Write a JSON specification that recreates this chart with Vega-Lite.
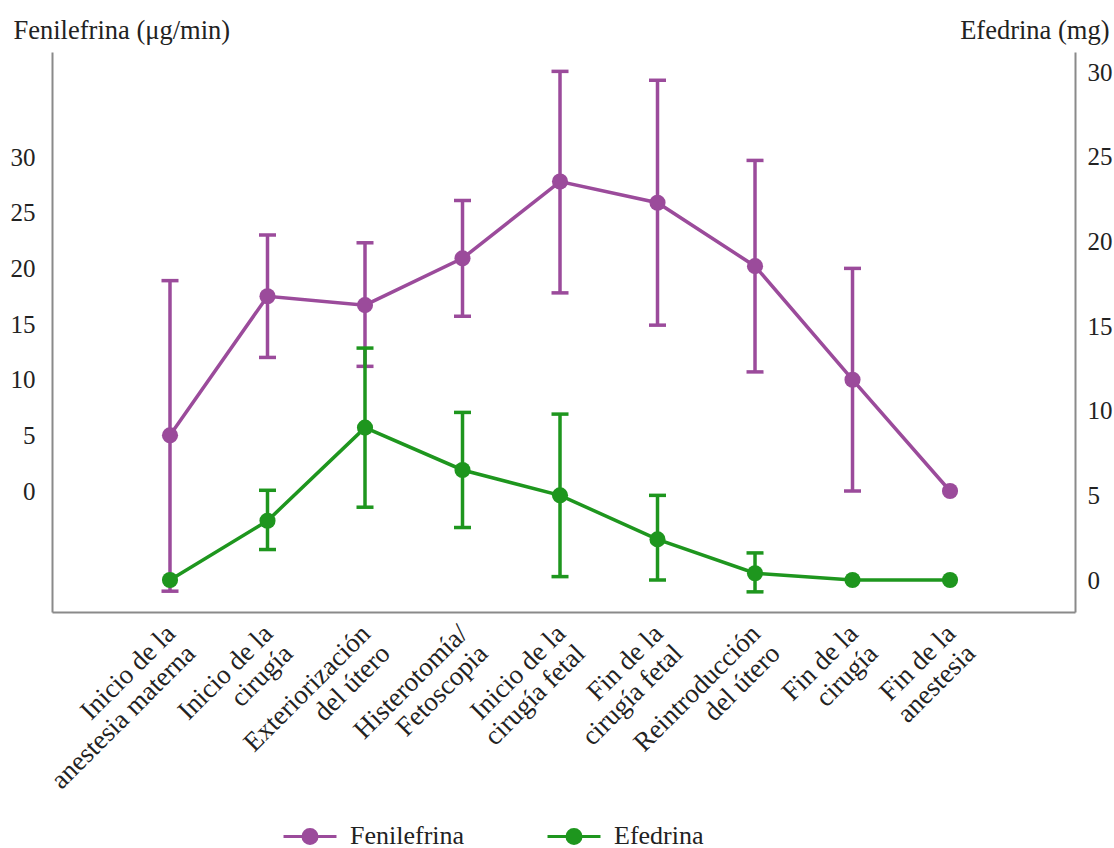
{
  "$schema": "https://vega.github.io/schema/vega-lite/v6.json",
  "autosize": {"type": "none"},
  "padding": {"left": 52, "top": 52, "right": 39, "bottom": 236},
  "width": 1023,
  "height": 560,
  "background": "white",
  "config": {
    "view": {"stroke": null},
    "font": "Liberation Serif",
    "axis": {
      "domainColor": "#8a8a8a",
      "domainWidth": 2,
      "grid": false,
      "ticks": false,
      "labelFont": "Liberation Serif",
      "labelFontSize": 25,
      "labelColor": "#222222",
      "titleFont": "Liberation Serif",
      "titleFontSize": 26.5,
      "titleFontWeight": "normal",
      "titleColor": "#222222"
    }
  },
  "data": {
    "values": [
      {"etapa": "Inicio de la|anestesia materna", "serie": "Fenilefrina", "valor": 5.0, "lo": -9.0, "hi": 18.9},
      {"etapa": "Inicio de la|cirugía", "serie": "Fenilefrina", "valor": 17.5, "lo": 12.0, "hi": 23.0},
      {"etapa": "Exteriorización|del útero", "serie": "Fenilefrina", "valor": 16.7, "lo": 11.2, "hi": 22.3},
      {"etapa": "Histerotomía/|Fetoscopia", "serie": "Fenilefrina", "valor": 20.9, "lo": 15.7, "hi": 26.1},
      {"etapa": "Inicio de la|cirugía fetal", "serie": "Fenilefrina", "valor": 27.8, "lo": 17.8, "hi": 37.7},
      {"etapa": "Fin de la|cirugía fetal", "serie": "Fenilefrina", "valor": 25.9, "lo": 14.9, "hi": 36.9},
      {"etapa": "Reintroducción|del útero", "serie": "Fenilefrina", "valor": 20.2, "lo": 10.7, "hi": 29.7},
      {"etapa": "Fin de la|cirugía", "serie": "Fenilefrina", "valor": 10.0, "lo": 0.0, "hi": 20.0},
      {"etapa": "Fin de la|anestesia", "serie": "Fenilefrina", "valor": 0.0, "lo": null, "hi": null},
      {"etapa": "Inicio de la|anestesia materna", "serie": "Efedrina", "valor": 0.0, "lo": null, "hi": null},
      {"etapa": "Inicio de la|cirugía", "serie": "Efedrina", "valor": 3.5, "lo": 1.8, "hi": 5.3},
      {"etapa": "Exteriorización|del útero", "serie": "Efedrina", "valor": 9.0, "lo": 4.3, "hi": 13.7},
      {"etapa": "Histerotomía/|Fetoscopia", "serie": "Efedrina", "valor": 6.5, "lo": 3.1, "hi": 9.9},
      {"etapa": "Inicio de la|cirugía fetal", "serie": "Efedrina", "valor": 5.0, "lo": 0.2, "hi": 9.8},
      {"etapa": "Fin de la|cirugía fetal", "serie": "Efedrina", "valor": 2.4, "lo": 0.0, "hi": 5.0},
      {"etapa": "Reintroducción|del útero", "serie": "Efedrina", "valor": 0.4, "lo": -0.7, "hi": 1.6},
      {"etapa": "Fin de la|cirugía", "serie": "Efedrina", "valor": 0.0, "lo": null, "hi": null},
      {"etapa": "Fin de la|anestesia", "serie": "Efedrina", "valor": 0.0, "lo": null, "hi": null}
    ]
  },
  "encoding": {
    "x": {
      "field": "etapa",
      "type": "nominal",
      "sort": null,
      "scale": {"type": "band", "paddingInner": 0, "paddingOuter": 0.746, "align": 0.476},
      "axis": {
        "title": null,
        "labelAngle": -45,
        "labelAlign": "right",
        "labelBaseline": "top",
        "labelExpr": "split(datum.label, '|')",
        "labelPadding": 8,
        "labelOffset": -8,
        "labelLineHeight": 28,
        "labelFontSize": 27,
        "labelLimit": 500
      }
    }
  },
  "layer": [
    {
      "transform": [{"filter": "datum.serie === 'Fenilefrina'"}],
      "layer": [
        {
          "transform": [{"filter": "isValid(datum.hi)"}],
          "mark": {"type": "rule", "color": "#9b4b9b", "strokeWidth": 3.5},
          "encoding": {
            "y": {"field": "lo", "type": "quantitative", "scale": {"domain": [-10.87, 39.44], "nice": false, "zero": false},
              "axis": {"orient": "left", "values": [0, 5, 10, 15, 20, 25, 30], "title": "Fenilefrina (μg/min)", "titleAngle": 0, "titleAlign": "left", "titleBaseline": "middle", "titleX": -39, "titleY": -22, "labelPadding": 17}},
            "y2": {"field": "hi"}
          }
        },
        {
          "transform": [{"filter": "isValid(datum.hi)"}],
          "mark": {"type": "tick", "color": "#9b4b9b", "size": 17, "thickness": 3.5, "opacity": 1, "orient": "horizontal"},
          "encoding": {
            "y": {"field": "lo", "type": "quantitative", "scale": {"domain": [-10.87, 39.44], "nice": false, "zero": false},
              "axis": {"orient": "left", "values": [0, 5, 10, 15, 20, 25, 30], "title": "Fenilefrina (μg/min)", "titleAngle": 0, "titleAlign": "left", "titleBaseline": "middle", "titleX": -39, "titleY": -22, "labelPadding": 17}}
          }
        },
        {
          "transform": [{"filter": "isValid(datum.hi)"}],
          "mark": {"type": "tick", "color": "#9b4b9b", "size": 17, "thickness": 3.5, "opacity": 1, "orient": "horizontal"},
          "encoding": {
            "y": {"field": "hi", "type": "quantitative", "scale": {"domain": [-10.87, 39.44], "nice": false, "zero": false},
              "axis": {"orient": "left", "values": [0, 5, 10, 15, 20, 25, 30], "title": "Fenilefrina (μg/min)", "titleAngle": 0, "titleAlign": "left", "titleBaseline": "middle", "titleX": -39, "titleY": -22, "labelPadding": 17}}
          }
        },
        {
          "mark": {"type": "line", "strokeWidth": 3.5},
          "encoding": {
            "y": {"field": "valor", "type": "quantitative", "scale": {"domain": [-10.87, 39.44], "nice": false, "zero": false},
              "axis": {"orient": "left", "values": [0, 5, 10, 15, 20, 25, 30], "title": "Fenilefrina (μg/min)", "titleAngle": 0, "titleAlign": "left", "titleBaseline": "middle", "titleX": -39, "titleY": -22, "labelPadding": 17}},
            "color": {
              "field": "serie", "type": "nominal",
              "scale": {"domain": ["Fenilefrina", "Efedrina"], "range": ["#9b4b9b", "#1e961e"]},
              "legend": {
                "title": null, "orient": "none", "legendX": 243, "legendY": 769, "direction": "horizontal",
                "symbolType": "M-2,0L2,0M-0.53,0A0.53,0.53,0,1,1,0.53,0A0.53,0.53,0,1,1,-0.53,0M-0.34,0A0.34,0.34,0,1,1,0.34,0A0.34,0.34,0,1,1,-0.34,0M-0.15,0A0.15,0.15,0,1,1,0.15,0A0.15,0.15,0,1,1,-0.15,0",
                "symbolSize": 702, "symbolStrokeWidth": 3, "symbolOpacity": 1,
                "labelFont": "Liberation Serif", "labelFontSize": 26, "labelColor": "#222222",
                "labelOffset": 25, "columnPadding": 76, "padding": 0, "labelLimit": 400
              }
            }
          }
        },
        {
          "mark": {"type": "point", "filled": true, "size": 260, "opacity": 1, "color": "#9b4b9b"},
          "encoding": {
            "y": {"field": "valor", "type": "quantitative", "scale": {"domain": [-10.87, 39.44], "nice": false, "zero": false},
              "axis": {"orient": "left", "values": [0, 5, 10, 15, 20, 25, 30], "title": "Fenilefrina (μg/min)", "titleAngle": 0, "titleAlign": "left", "titleBaseline": "middle", "titleX": -39, "titleY": -22, "labelPadding": 17}}
          }
        }
      ]
    },
    {
      "transform": [{"filter": "datum.serie === 'Efedrina'"}],
      "layer": [
        {
          "transform": [{"filter": "isValid(datum.hi)"}],
          "mark": {"type": "rule", "color": "#1e961e", "strokeWidth": 3.5},
          "encoding": {
            "y": {"field": "lo", "type": "quantitative", "scale": {"domain": [-1.89, 31.19], "nice": false, "zero": false},
              "axis": {"orient": "right", "values": [0, 5, 10, 15, 20, 25, 30], "title": "Efedrina (mg)", "titleAngle": 0, "titleAlign": "right", "titleBaseline": "middle", "titleX": 34, "titleY": -22, "labelPadding": 12}},
            "y2": {"field": "hi"}
          }
        },
        {
          "transform": [{"filter": "isValid(datum.hi)"}],
          "mark": {"type": "tick", "color": "#1e961e", "size": 17, "thickness": 3.5, "opacity": 1, "orient": "horizontal"},
          "encoding": {
            "y": {"field": "lo", "type": "quantitative", "scale": {"domain": [-1.89, 31.19], "nice": false, "zero": false},
              "axis": {"orient": "right", "values": [0, 5, 10, 15, 20, 25, 30], "title": "Efedrina (mg)", "titleAngle": 0, "titleAlign": "right", "titleBaseline": "middle", "titleX": 34, "titleY": -22, "labelPadding": 12}}
          }
        },
        {
          "transform": [{"filter": "isValid(datum.hi)"}],
          "mark": {"type": "tick", "color": "#1e961e", "size": 17, "thickness": 3.5, "opacity": 1, "orient": "horizontal"},
          "encoding": {
            "y": {"field": "hi", "type": "quantitative", "scale": {"domain": [-1.89, 31.19], "nice": false, "zero": false},
              "axis": {"orient": "right", "values": [0, 5, 10, 15, 20, 25, 30], "title": "Efedrina (mg)", "titleAngle": 0, "titleAlign": "right", "titleBaseline": "middle", "titleX": 34, "titleY": -22, "labelPadding": 12}}
          }
        },
        {
          "mark": {"type": "line", "color": "#1e961e", "strokeWidth": 3.5},
          "encoding": {
            "y": {"field": "valor", "type": "quantitative", "scale": {"domain": [-1.89, 31.19], "nice": false, "zero": false},
              "axis": {"orient": "right", "values": [0, 5, 10, 15, 20, 25, 30], "title": "Efedrina (mg)", "titleAngle": 0, "titleAlign": "right", "titleBaseline": "middle", "titleX": 34, "titleY": -22, "labelPadding": 12}}
          }
        },
        {
          "mark": {"type": "point", "filled": true, "size": 260, "opacity": 1, "color": "#1e961e"},
          "encoding": {
            "y": {"field": "valor", "type": "quantitative", "scale": {"domain": [-1.89, 31.19], "nice": false, "zero": false},
              "axis": {"orient": "right", "values": [0, 5, 10, 15, 20, 25, 30], "title": "Efedrina (mg)", "titleAngle": 0, "titleAlign": "right", "titleBaseline": "middle", "titleX": 34, "titleY": -22, "labelPadding": 12}}
          }
        }
      ]
    }
  ],
  "resolve": {"scale": {"y": "independent"}}
}
